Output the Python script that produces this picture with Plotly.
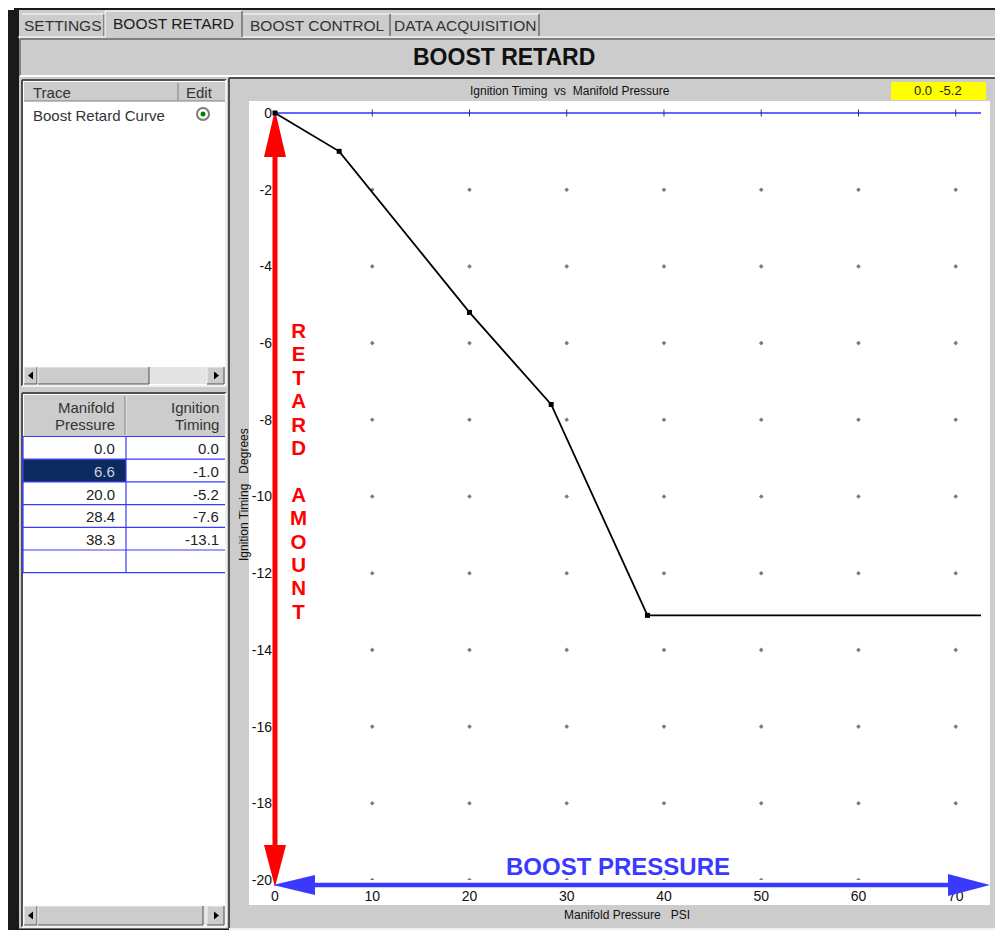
import plotly.graph_objects as go

# ---------------- data ----------------
pressure_psi = [0.0, 6.6, 20.0, 28.4, 38.3]
timing_deg = [0.0, -1.0, -5.2, -7.6, -13.1]
x_ticks = [0, 10, 20, 30, 40, 50, 60, 70]
y_ticks = [0, -2, -4, -6, -8, -10, -12, -14, -16, -18, -20]
x_range = [0, 72.6]
y_range = [-20, 0]
tab_labels = ["SETTINGS", "BOOST RETARD", "BOOST CONTROL", "DATA ACQUISITION"]
selected_tab = 1
selected_row = 1
cursor_readout = "0.0  -5.2"
vertical_label = "RETARD AMOUNT"
horizontal_label = "BOOST PRESSURE"

# page is 1003x938; the browser keeps an 8px body margin around the figure
PAGE_W, PAGE_H = 1003, 938
OFF = 8
W, H = PAGE_W - 2 * OFF, PAGE_H - 2 * OFF
GRAY = "#cccccc"
DARK = "#808080"
FONT = "Liberation Sans"


def X(p):
    return (p - OFF) / W


def Y(p):
    return 1 - (p - OFF) / H


shapes = []
annotations = []


def rect(x0, y0, x1, y1, fill, line=None, lw=0, layer="below"):
    shapes.append(dict(type="rect", xref="paper", yref="paper",
                       x0=X(x0), x1=X(x1), y0=Y(y1), y1=Y(y0),
                       fillcolor=fill, layer=layer,
                       line=dict(width=lw, color=line or fill)))


def line(x0, y0, x1, y1, color, w=1, layer="below"):
    shapes.append(dict(type="line", xref="paper", yref="paper",
                       x0=X(x0), x1=X(x1), y0=Y(y0), y1=Y(y1), layer=layer,
                       line=dict(width=w, color=color)))


def bevel(x0, y0, x1, y1, tl, br, w=1):
    line(x0, y0, x1, y0, tl, w)
    line(x0, y0, x0, y1, tl, w)
    line(x0, y1, x1, y1, br, w)
    line(x1, y0, x1, y1, br, w)


def poly(pts, color, layer="below"):
    d = "M " + " L ".join(f"{X(a):.6f},{Y(b):.6f}" for a, b in pts) + " Z"
    shapes.append(dict(type="path", xref="paper", yref="paper", path=d,
                       fillcolor=color, line=dict(width=0, color=color), layer=layer))


def text(x, y, s, size=15, color="#222222", xa="center", ya="middle", bold=False,
         family=FONT, angle=0):
    annotations.append(dict(xref="paper", yref="paper", x=X(x), y=Y(y), text=s,
                            showarrow=False, xanchor=xa, yanchor=ya, textangle=angle,
                            font=dict(family=family, size=size, color=color,
                                      weight="bold" if bold else "normal")))


# ---------------- window chrome ----------------
rect(18, 8, 1003, 935, GRAY)
line(14, 9, 1003, 9, "#1a1a1a", 2)
rect(8, 10, 19, 938, "#1a1a1a")
line(18, 929.5, 1003, 929.5, "#1a1a1a", 2)

# tabs
tab_x = [(22, 104), (105, 242), (243, 390), (391, 539)]
line(18, 37, 1003, 37, "#ffffff", 1)
for i, (lab, (a, b)) in enumerate(zip(tab_labels, tab_x)):
    if i == selected_tab:
        rect(a, 11, b, 38, GRAY)
        line(a, 11, b, 11, "#ffffff")
        line(a, 11, a, 37, "#ffffff")
        line(b, 11, b, 37, "#404040")
        text((a + b) / 2, 23, lab, size=15.5, color="#1a1a1a")
    else:
        line(a, 14, b, 14, "#ffffff")
        line(b, 14, b, 36, "#404040")
        text((a + b) / 2, 25, lab, size=15.5, color="#333333")

# title bar
rect(20, 39, 1000, 76, GRAY)
bevel(20, 39, 1000, 76, DARK, "#ffffff", 2)
text(504, 57, "BOOST RETARD", size=23, color="#111111", bold=True)

# ---------------- left upper panel (trace list) ----------------
rect(22, 80, 226, 386, "#ffffff")
bevel(22, 80, 226, 386, "#505050", "#f0f0f0", 2)
rect(24, 82, 225, 101, GRAY)
line(178, 83, 178, 100, DARK)
line(24, 101, 225, 101, DARK)
text(31, 92, "Trace", xa="left", size=15, color="#333333")
text(184, 92, "Edit", xa="left", size=15, color="#333333")
text(31, 115, "Boost Retard Curve", xa="left", size=15, color="#333333")
shapes.append(dict(type="circle", xref="paper", yref="paper",
                   x0=X(197), x1=X(209), y0=Y(120), y1=Y(108),
                   fillcolor="#ffffff", line=dict(color="#7a7a7a", width=2)))
shapes.append(dict(type="circle", xref="paper", yref="paper",
                   x0=X(200.5), x1=X(205.5), y0=Y(116.5), y1=Y(111.5),
                   fillcolor="#008000", line=dict(color="#008000", width=0)))


def scrollbar(y0, y1, thumb_end):
    rect(24, y0, 225, y1, "#e4e4e4")
    for a, b in [(24, 37), (38, thumb_end), (207, 224)]:
        rect(a, y0, b, y1, GRAY)
        bevel(a, y0, b, y1, "#f4f4f4", "#505050", 1)
    my = (y0 + y1) / 2
    poly([(28, my), (33, my - 4), (33, my + 4)], "#000000")
    poly([(219, my), (214, my - 4), (214, my + 4)], "#000000")


scrollbar(367, 384, 149)

# ---------------- left lower panel (table) ----------------
rect(22, 393, 226, 927, "#ffffff")
bevel(22, 393, 226, 927, "#505050", "#f0f0f0", 2)
rect(24, 395, 225, 436, GRAY)
line(126, 396, 126, 435, "#f4f4f4")
line(125, 396, 125, 435, DARK)
text(117, 407, "Manifold", xa="right", size=15, color="#333333")
text(117, 425, "Pressure", xa="right", size=15, color="#333333")
text(221, 407, "Ignition", xa="right", size=15, color="#333333")
text(221, 425, "Timing", xa="right", size=15, color="#333333")

row_h = 22.7
row0 = 436.5
n_rows = len(pressure_psi) + 1
for r in range(n_rows):
    top = row0 + r * row_h
    if r == selected_row:
        rect(23, top, 126, top + row_h, "#0b2b5e")
    if r < len(pressure_psi):
        sel = r == selected_row
        text(117, top + row_h / 2 + 1, f"{pressure_psi[r]:.1f}", xa="right", size=15,
             color="#c9d3e6" if sel else "#222222")
        text(221, top + row_h / 2 + 1, f"{timing_deg[r]:.1f}", xa="right", size=15,
             color="#222222")
for r in range(n_rows + 1):
    yy = row0 + r * row_h
    line(23, yy, 225, yy, "#3a3aff", 1.2)
line(23, row0, 23, row0 + n_rows * row_h, "#3a3aff", 1.2)
line(126, row0, 126, row0 + n_rows * row_h, "#3a3aff", 1.2)
scrollbar(906, 925, 203)

# ---------------- right panel (chart frame) ----------------
rect(229, 78, 1001, 929, GRAY)
bevel(229, 78, 1001, 929, "#505050", "#f0f0f0", 2)
rect(249, 101, 990, 905, "#ffffff")
text(570, 91, "Ignition Timing  vs  Manifold Pressure", size=12, color="#111111")
rect(891, 82, 986, 100, "#ffff00")
text(938, 91, cursor_readout, size=13, color="#222222")
text(627, 915, "Manifold Pressure   PSI", size=12, color="#111111")
text(244, 495, "Ignition Timing   Degrees", size=12, color="#111111", angle=-90)

# plot area placement (pixels on the page)
PX0, PX1, PY0, PY1 = 275, 981, 113, 880

# blue zero reference line along the top of the plot
line(PX0, PY0, PX1, PY0, "#3333ff", 1.5)

# red / blue annotation arrows
RED = "#ff0000"
BLUE = "#3a3aff"
line(275, 150, 275, 850, RED, 5)
poly([(275, 110), (264, 157), (286, 157)], RED)
poly([(275, 887), (264, 845), (286, 845)], RED)
line(310, 885, 955, 885, BLUE, 4.5, layer="above")
poly([(273, 885), (315, 875), (315, 895)], BLUE, layer="above")
poly([(990, 885), (948, 874), (948, 896)], BLUE, layer="above")

stack = "<br>".join(
    "" if ch == " " else f"<span style='font-size:20.5px'>{ch}</span>" for ch in vertical_label
)
annotations.append(dict(xref="paper", yref="paper", x=X(298), y=Y(317), text=stack,
                        showarrow=False, xanchor="center", yanchor="top", align="center",
                        font=dict(family=FONT, size=18, color=RED, weight="bold")))
text(618, 866, horizontal_label, size=24, color=BLUE, bold=True)

# ---------------- chart traces ----------------
grid_x = [xv for xv in x_ticks if xv > 0 for yv in y_ticks if yv < 0]
grid_y = [yv for xv in x_ticks if xv > 0 for yv in y_ticks if yv < 0]
tick_x = [xv for xv in x_ticks if xv > 0]
tick_y = [0 for _ in tick_x]

fig = go.Figure()
fig.add_trace(go.Scatter(x=grid_x, y=grid_y, mode="markers", hoverinfo="skip",
                         marker=dict(symbol="diamond", size=3.5, color="#7a7a7a"),
                         showlegend=False))
fig.add_trace(go.Scatter(x=tick_x, y=tick_y, mode="markers", hoverinfo="skip",
                         marker=dict(symbol="line-ns-open", size=5, color="#333366",
                                     line=dict(width=1, color="#333366")),
                         showlegend=False, cliponaxis=False))
fig.add_trace(go.Scatter(x=pressure_psi + [x_range[1]], y=timing_deg + [timing_deg[-1]],
                         mode="lines", line=dict(color="#000000", width=1.8),
                         showlegend=False, cliponaxis=False))
fig.add_trace(go.Scatter(x=pressure_psi, y=timing_deg, mode="markers",
                         marker=dict(symbol="square", size=5, color="#000000"),
                         showlegend=False, cliponaxis=False))

fig.update_layout(
    width=W, height=H, margin=dict(l=0, r=0, t=0, b=0, autoexpand=False),
    paper_bgcolor="#ffffff", plot_bgcolor="rgba(0,0,0,0)",
    shapes=shapes, annotations=annotations,
    xaxis=dict(domain=[X(PX0), X(PX1)], range=x_range, tickvals=x_ticks,
               ticktext=[str(v) for v in x_ticks], showgrid=False, zeroline=False,
               showline=False, ticks="", ticklabelstandoff=6,
               tickfont=dict(family=FONT, size=14, color="#111111"), fixedrange=True),
    yaxis=dict(domain=[Y(PY1), Y(PY0)], range=y_range, tickvals=y_ticks,
               ticktext=[str(v) for v in y_ticks], showgrid=False, zeroline=False,
               showline=False, ticks="", ticklabelstandoff=2,
               tickfont=dict(family=FONT, size=14, color="#111111"), fixedrange=True),
    showlegend=False, hovermode=False,
)

fig.write_html("out.html", config={"displayModeBar": False})
